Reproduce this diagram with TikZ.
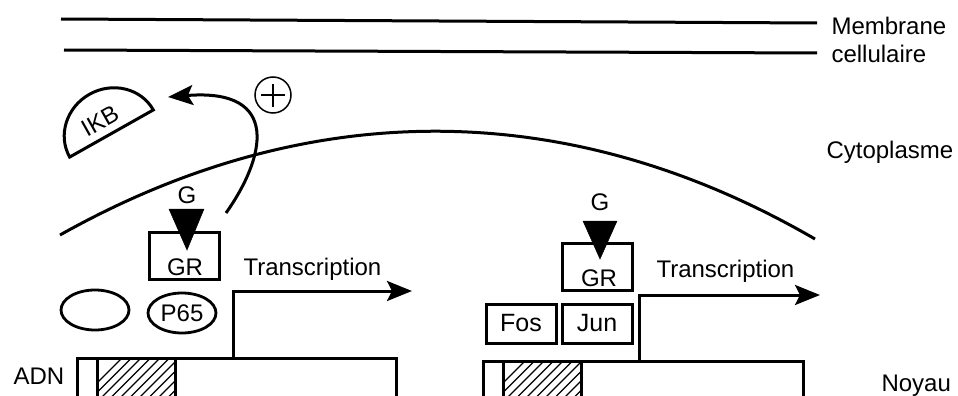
\documentclass[tikz,border=0pt]{standalone}
\usepackage{fontspec}
\setmainfont{Liberation Sans}
\usetikzlibrary{arrows.meta,shapes.geometric}
\begin{document}
\begin{tikzpicture}[x=1pt,y=-1pt,
  line width=3pt,
  every node/.style={font=\fontsize{24}{28}\selectfont, inner sep=0pt},
  lbl/.style={anchor=base west},
  boxnode/.style={draw, line width=3pt, minimum width=70, minimum height=47},
  smallbox/.style={draw, line width=3pt, minimum width=70, minimum height=39},
  ovalnode/.style={draw, ellipse, line width=2.8pt, minimum width=68, minimum height=40},
  bigtip/.style={-{Stealth[length=25pt,width=20pt,inset=5pt]}},
  ligand/.style={fill=black, draw=black, line width=0.5pt},
  hatchline/.style={line width=1.1pt}
]
\useasboundingbox (0,0) rectangle (958,396);
\clip (0,0) rectangle (958,396);

% membrane
\draw (61,19) -- (817,23);
\draw (64,50) -- (817,53);
\node[lbl] (memb) at (830,35) {Membrane};
\node[lbl] (cell) at (830,63) {cellulaire};
\node[lbl] (cyto) at (825,158) {Cytoplasme};
\node[lbl] (noy) at (880,391) {Noyau};

% nuclear envelope
\draw (60,235) .. controls (311,94) and (572,98) .. (815,239);

% IKB
\begin{scope}[shift={(111.5,133.5)}, rotate=29.4]
  \draw (-48,0) arc[start angle=180, end angle=360, x radius=48, y radius=45] -- cycle;
\end{scope}
\node[rotate=29.4] (ikb) at (100,121) {IKB};

% plus
\node[draw, circle, line width=1.5pt, minimum size=36] (plus) at (273,95) {};
\draw[line width=2.8pt] (261,95) -- (285,95);
\draw[line width=2.8pt] (273,84) -- (273,107);

% left complex
\node[boxnode] (gr1) at (184,256) {};
\node[anchor=base] at (185,275) {GR};
\node[anchor=base] (g1) at (187,203) {G};
\draw[ligand] (169,209) -- (204,209) -- (187,250) -- cycle;
\coordinate (curvestart) at (226,213);
\coordinate (curveend) at (168,97);
\draw[bigtip] (curvestart) .. controls (265,158) and (282,88) .. (curveend);

\node[ovalnode] (blank) at (95,310) {};
\node[ovalnode] (p65) at (182,313) {P65};

\node[lbl] (tr1) at (242,275) {Transcription};

\node[lbl] (adn) at (12,384) {ADN};
\node[draw, line width=3pt, minimum width=319, minimum height=60, anchor=north west] (dna1) at (76,357) {};
\draw (97,357) -- (97,400);
\draw (175,357) -- (175,400);
\begin{scope}
  \clip (97,357) rectangle (175,400);
  \foreach \i in {0,...,14} {
    \draw[hatchline] (80+9.5*\i,400) -- ++(50,-50);
  }
\end{scope}
\coordinate (tss1) at (233,357);
\coordinate (end1) at (412,291);
\draw[bigtip] (tss1) |- (end1);

% right complex
\node[boxnode] (gr2) at (597,266.5) {};
\node[anchor=base] at (599,286) {GR};
\node[anchor=base] (g2) at (600,210) {G};
\draw[ligand] (583,221) -- (617,221) -- (600,259) -- cycle;

\node[smallbox, font=\fontsize{25}{28}\selectfont] (fos) at (521,323.5) {Fos};
\node[smallbox, font=\fontsize{25}{28}\selectfont] (jun) at (597,323.5) {Jun};

\node[lbl] (tr2) at (655,277) {Transcription};

\node[draw, line width=3pt, minimum width=320, minimum height=60, anchor=north west] (dna2) at (482,360) {};
\draw (503,360) -- (503,400);
\draw (581,360) -- (581,400);
\begin{scope}
  \clip (503,360) rectangle (581,400);
  \foreach \i in {0,...,14} {
    \draw[hatchline] (486+9.5*\i,400) -- ++(50,-50);
  }
\end{scope}
\coordinate (tss2) at (639,360);
\coordinate (end2) at (820,295);
\draw[bigtip] (tss2) |- (end2);

\end{tikzpicture}
\end{document}
